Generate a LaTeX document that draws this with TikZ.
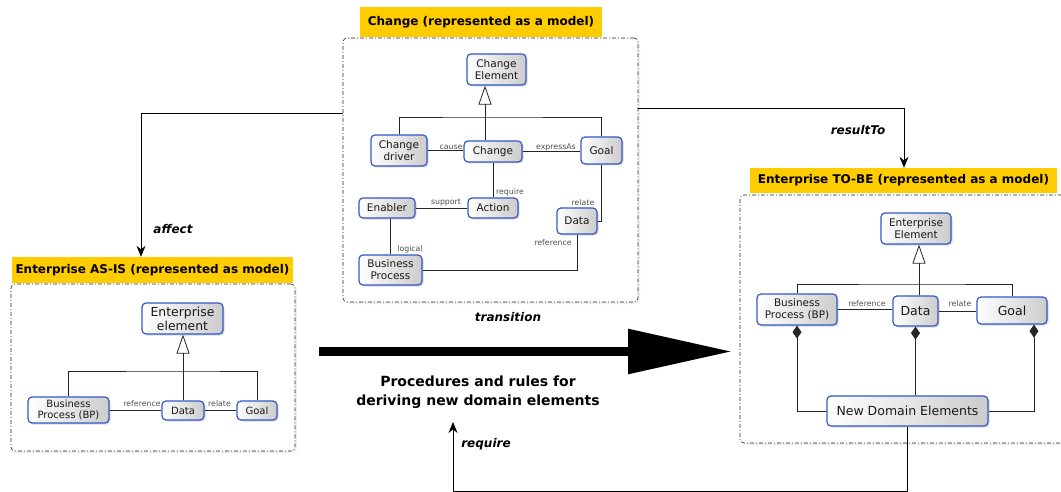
\documentclass[tikz,border=0pt]{standalone}
\usepackage{fontspec}
\setmainfont{DejaVu Sans}
\usetikzlibrary{arrows.meta,shadows}

\definecolor{umlblue}{RGB}{52,88,200}
\definecolor{titlegold}{RGB}{255,204,0}
\definecolor{rolegray}{RGB}{80,80,80}

\newcommand{\fs}[1]{\fontsize{#1}{#1}\selectfont}

\tikzset{
  umlclass/.style={draw=umlblue, line width=1.2pt, rounded corners=4pt,
    left color=white, right color=black!20, inner sep=0pt, align=center,
    text=black!90,
    drop shadow={shadow xshift=1.5pt, shadow yshift=-1.5pt, opacity=0.3}},
  modelframe/.style={draw=black!85, line width=0.6pt,
    dash pattern=on 4pt off 2pt on 1pt off 2pt, rounded corners=4pt, fill=white,
    inner sep=0pt,
    drop shadow={shadow xshift=2pt, shadow yshift=-2pt, opacity=0.12}},
  titlebar/.style={fill=titlegold, inner sep=0pt, text=black,
    font=\bfseries\fontsize{12}{14}\selectfont},
  assoc/.style={draw=black!85, line width=0.8pt},
  rolelbl/.style={font=\fontsize{7.8}{9}\selectfont, text=rolegray, inner sep=0pt},
  flow/.style={draw=black, line width=0.9pt, -{Stealth[length=11pt,width=9pt]}},
  flowlbl/.style={font=\bfseries\itshape\fontsize{12}{14}\selectfont, inner sep=0pt},
  gen/.style={assoc, -{Triangle[open,length=19pt,width=13pt,fill=white]}},
  comp/.style={assoc, {Diamond[length=13pt,width=9pt]}-},
}

\begin{document}
\begin{tikzpicture}[x=1pt, y=-1pt]
\path[use as bounding box] (0,0) rectangle (1061,492);
\clip (0,0) rectangle (1061,492);

% ---------- frames ----------
\node[modelframe, minimum width=295pt, minimum height=264pt] (cframe) at (490.5,170) {};
\node[modelframe, minimum width=284pt, minimum height=167pt] (aframe) at (153,367.5) {};
\node[modelframe, minimum width=335pt, minimum height=248pt] (tframe) at (907.5,319) {};

% ---------- title bars ----------
\node[titlebar, minimum width=242pt, minimum height=30pt] (ctitle) at (481,22) {Change (represented as a model)};
\node[titlebar, minimum width=281pt, minimum height=26pt] (atitle) at (152.5,270) {Enterprise AS-IS (represented as model)};
\node[titlebar, minimum width=307pt, minimum height=25pt] (ttitle) at (903.5,180.5) {Enterprise TO-BE (represented as a model)};

% ---------- change model ----------
\node[umlclass, minimum width=59pt, minimum height=31pt, font=\fontsize{10.5}{12}\selectfont] (ce) at (496.5,69.5) {Change\\Element};
\node[umlclass, minimum width=56pt, minimum height=31pt, font=\fontsize{10.5}{12}\selectfont] (cdrv) at (399,150.5) {Change\\driver};
\node[umlclass, minimum width=58pt, minimum height=21pt, font=\fs{10.5}] (chg) at (493,151.5) {Change};
\node[umlclass, minimum width=41pt, minimum height=27pt, font=\fs{10.5}] (cgoal) at (601.5,150.5) {Goal};
\node[umlclass, minimum width=50pt, minimum height=20pt, font=\fs{10.5}] (act) at (493,208) {Action};
\node[umlclass, minimum width=56pt, minimum height=20pt, font=\fs{10.5}] (enab) at (387,208) {Enabler};
\node[umlclass, minimum width=63pt, minimum height=30pt, font=\fontsize{10.5}{12}\selectfont] (cbp) at (390.5,270) {Business\\Process};
\node[umlclass, minimum width=40pt, minimum height=26pt, font=\fs{10.5}] (cdata) at (577,221) {Data};

\coordinate (cj) at (485,117);
\draw[assoc] (cdrv.north) |- (cj) -| (cgoal.north);
\draw[gen] (cj |- chg.north) -- (cj |- ce.south);
\draw[assoc] (cdrv.east) -- (cdrv.east -| chg.west);
\draw[assoc] (chg.east) -- (chg.east -| cgoal.west);
\draw[assoc] (chg.south) -- (act.north);
\draw[assoc] (enab.east) -- (act.west);
\draw[assoc] (cbp.north) -- (cbp.north |- enab.south);
\draw[assoc] (cgoal.south) |- (cdata.east);
\draw[assoc] (cdata.south) |- (cbp.east);

\node[rolelbl] (lcause) at (451,147) {cause};
\node[rolelbl] (lexpr) at (556,147) {expressAs};
\node[rolelbl] (lreq) at (510,192) {require};
\node[rolelbl] (lsup) at (446,203) {support};
\node[rolelbl] (lrel) at (583,203) {relate};
\node[rolelbl] (llog) at (410,249) {logical};
\node[rolelbl] (lref) at (553,243) {reference};

% ---------- AS-IS model ----------
\node[umlclass, minimum width=81pt, minimum height=31pt, font=\fontsize{12.4}{14}\selectfont] (aee) at (182.5,318.5) {Enterprise\\element};
\node[umlclass, minimum width=81pt, minimum height=26pt, font=\fontsize{10}{11.5}\selectfont] (abp) at (68.5,410) {Business\\Process (BP)};
\node[umlclass, minimum width=42pt, minimum height=19pt, font=\fs{10}] (adata) at (183,410.5) {Data};
\node[umlclass, minimum width=40pt, minimum height=19pt, font=\fs{10}] (agoal) at (257,410.5) {Goal};

\coordinate (aj) at (183,371);
\draw[assoc] (abp.north) |- (aj) -| (agoal.north);
\draw[gen] (aj |- adata.north) -- (aj |- aee.south);
\draw[assoc] (abp.east) -- (abp.east -| adata.west);
\draw[assoc] (adata.east) -- (agoal.west);
\node[rolelbl] (aref) at (142,404) {reference};
\node[rolelbl] (arel) at (219.5,404) {relate};

% ---------- TO-BE model ----------
\node[umlclass, minimum width=70pt, minimum height=31pt, font=\fontsize{10.5}{12.5}\selectfont] (tee) at (916,228.5) {Enterprise\\Element};
\node[umlclass, minimum width=80pt, minimum height=31pt, font=\fontsize{10.4}{12}\selectfont] (tbp) at (797,309.5) {Business\\Process (BP)};
\node[umlclass, minimum width=45pt, minimum height=30pt, font=\fs{12.5}] (tdata) at (915.5,311) {Data};
\node[umlclass, minimum width=70pt, minimum height=27pt, font=\fs{12.5}] (tgoal) at (1012,310.5) {Goal};
\node[umlclass, minimum width=161pt, minimum height=30pt, font=\fs{12.5}] (nde) at (907.5,411) {New Domain Elements};

\coordinate (tj) at (919,284);
\draw[assoc] (tbp.north) |- (tj) -| (tgoal.north);
\draw[gen] (tj |- tdata.north) -- (tj |- tee.south);
\draw[assoc] (tbp.east) -- (tbp.east -| tdata.west);
\draw[assoc] (tdata.east) -- (tdata.east -| tgoal.west);
\draw[comp] (tbp.south) |- (nde.west);
\draw[comp] (tdata.south) -- (tdata.south |- nde.north);
\draw[comp] ([xshift=22pt]tgoal.south) |- (nde.east);
\node[rolelbl] (tref) at (867,304) {reference};
\node[rolelbl] (trel) at (960,304) {relate};

% ---------- transition ----------
\coordinate (trS) at (319,351.5);
\coordinate (trE) at (732,351.5);
\draw[line width=9pt, -{Triangle[length=104pt,width=43pt]}] (trS) -- (trE);
\node[flowlbl] (ltrans) at (508,317) {transition};
\node[font=\bfseries\fontsize{14}{19}\selectfont, align=center, inner sep=0pt] (procs) at (478,392)
  {Procedures and rules for\\deriving new domain elements};

% ---------- flows between models ----------
\draw[flow] (cframe.west |- 0,113) -| (141,0 |- atitle.north);
\node[flowlbl] (laff) at (173,229) {affect};
\draw[flow] (cframe.east |- 0,108) -| (904,0 |- ttitle.north);
\node[flowlbl] (lres) at (858,130) {resultTo};
\coordinate (reqEnd) at (453,422);
\draw[flow] (nde.south) |- (reqEnd |- 0,491) -- (reqEnd);
\node[flowlbl] (lreqf) at (486,444) {require};
\end{tikzpicture}
\end{document}
